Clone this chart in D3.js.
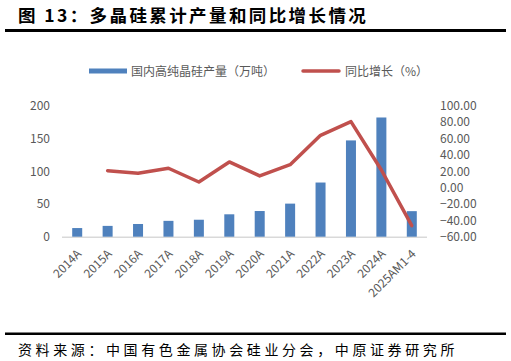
<!DOCTYPE html>
<html><head><meta charset="utf-8">
<script src="https://cdn.jsdelivr.net/npm/d3@7/dist/d3.min.js"></script>
<style>
body{margin:0;background:#fff;}
svg{display:block;}
</style></head>
<body>
<svg id="chart" width="511" height="361"></svg>
<script>
const categories = ["2014A","2015A","2016A","2017A","2018A","2019A","2020A","2021A","2022A","2023A","2024A","2025AM1-4"];
const production = [13.2, 16.5, 19.4, 24.2, 25.9, 34.2, 39.2, 50.5, 82.7, 147, 182, 39];
const growth = [null, 20.6, 17.5, 23.6, 6.8, 31.3, 14.2, 28, 63.8, 80.5, 21.5, -46.5];
const leftTicks = [0, 50, 100, 150, 200];
const rightTicks = [-60, -40, -20, 0, 20, 40, 60, 80, 100];
const seriesNames = ["国内高纯晶硅产量（万吨）", "同比增长（%）"];
const titleText = "图 13：多晶硅累计产量和同比增长情况";
const sourceText = "资料来源：中国有色金属协会硅业分会，中原证券研究所";

const svg = d3.select("#chart");
const font = "'Noto Sans CJK SC', 'Noto Sans', sans-serif";
const blue = "#4f81bd", red = "#c0504d", grey = "#595959";

// title
svg.append("text").attr("x", 18).attr("y", 22)
  .attr("font-family", font).attr("font-weight", "bold").attr("font-size", 17.5)
  .attr("letter-spacing", 2.4).attr("fill", "#000").text(titleText);
svg.append("rect").attr("x", 5).attr("y", 29).attr("width", 501).attr("height", 3).attr("fill", "#000");

// source
svg.append("rect").attr("x", 5).attr("y", 332.5).attr("width", 501).attr("height", 2.5).attr("fill", "#000");
svg.append("text").attr("x", 18).attr("y", 355)
  .attr("font-family", font).attr("font-size", 14).attr("letter-spacing", 3.6)
  .attr("fill", "#000").text(sourceText);

const x0 = 62, x1 = 427, yTop = 105.7, yBot = 236.7;
const xc = d3.scaleBand().domain(categories).range([x0, x1]);
const yL = d3.scaleLinear().domain([0, 200]).range([yBot, yTop]);
const yR = d3.scaleLinear().domain([-60, 100]).range([yBot, yTop]);

// baseline
svg.append("line").attr("x1", x0).attr("x2", x1).attr("y1", yBot + 0.5).attr("y2", yBot + 0.5)
  .attr("stroke", "#d9d9d9").attr("stroke-width", 1.5);

// bars
svg.append("g").selectAll("rect").data(production).join("rect")
  .attr("x", (d, i) => xc(categories[i]) + xc.bandwidth() / 2 - 5)
  .attr("width", 10)
  .attr("y", d => yL(d))
  .attr("height", d => yL(0) - yL(d))
  .attr("fill", blue);

// line
const line = d3.line()
  .defined(d => d != null)
  .x((d, i) => xc(categories[i]) + xc.bandwidth() / 2)
  .y(d => yR(d));
svg.append("path").datum(growth).attr("d", line)
  .attr("fill", "none").attr("stroke", red).attr("stroke-width", 3.5)
  .attr("stroke-linejoin", "round").attr("stroke-linecap", "round");

// left axis
const gl = svg.append("g").attr("transform", `translate(${x0 - 12},0)`)
  .call(d3.axisLeft(yL).tickValues(leftTicks).tickSize(0).tickPadding(0));
gl.select(".domain").remove();
gl.selectAll("text").attr("font-family", font).attr("font-size", 12).attr("fill", grey);

// right axis
const gr = svg.append("g").attr("transform", `translate(${x1 + 13},0)`)
  .call(d3.axisRight(yR).tickValues(rightTicks).tickSize(0).tickPadding(0).tickFormat(d3.format(".2f")));
gr.select(".domain").remove();
gr.selectAll("text").attr("font-family", font).attr("font-size", 12).attr("fill", grey);

// x axis
const gx = svg.append("g").attr("transform", `translate(0,${yBot})`)
  .call(d3.axisBottom(xc).tickSize(0).tickPadding(0));
gx.select(".domain").remove();
gx.selectAll("text")
  .attr("font-family", font).attr("font-size", 12).attr("fill", grey)
  .attr("text-anchor", "end").attr("dy", 0).attr("y", 0)
  .attr("transform", "translate(5,18) rotate(-45)");

// legend
const lg = svg.append("g").attr("font-family", font).attr("font-size", 12).attr("fill", grey);
lg.append("rect").attr("x", 89).attr("y", 68.5).attr("width", 38).attr("height", 5).attr("fill", blue);
lg.append("text").attr("x", 131).attr("y", 75.5).text(seriesNames[0]);
lg.append("line").attr("x1", 303).attr("x2", 339).attr("y1", 71).attr("y2", 71)
  .attr("stroke", red).attr("stroke-width", 3.5).attr("stroke-linecap", "round");
lg.append("text").attr("x", 345).attr("y", 75.5).text(seriesNames[1]);
</script>
</body></html>
